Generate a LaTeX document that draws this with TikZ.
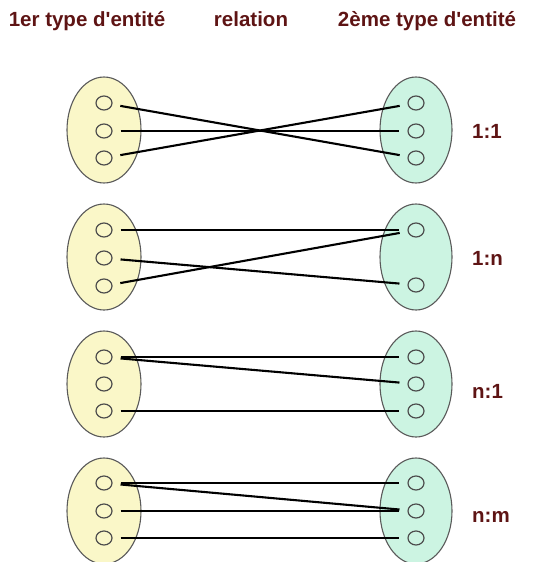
\documentclass[tikz,border=0pt]{standalone}
\usepackage{fontspec}
\setmainfont{Liberation Sans}[Ligatures=TeXOff]
\usetikzlibrary{shapes.geometric}
\definecolor{lefty}{HTML}{FAF7C8}
\definecolor{rightg}{HTML}{CCF4E2}
\definecolor{rim}{HTML}{5A5A5A}
\definecolor{txt}{HTML}{5E1414}
\begin{document}
\begin{tikzpicture}[x=1pt,y=-1pt,
  setL/.style={ellipse, draw=rim, line width=1.1pt, fill=lefty, minimum width=74pt, minimum height=106pt, inner sep=0pt},
  setR/.style={ellipse, draw=rim, line width=1.1pt, fill=rightg, minimum width=72pt, minimum height=106pt, inner sep=0pt},
  dotL/.style={ellipse, draw=rim!85!black, line width=1.2pt, fill=lefty, minimum width=16pt, minimum height=14pt, inner sep=0pt},
  dotR/.style={ellipse, draw=rim!85!black, line width=1.2pt, fill=rightg, minimum width=16pt, minimum height=14pt, inner sep=0pt},
  head/.style={font=\fontsize{20.5}{22}\selectfont\bfseries, text=txt, anchor=base, inner sep=0pt},
  card/.style={font=\fontsize{20.5}{22}\selectfont\bfseries, text=txt, anchor=base west, inner sep=0pt},
  link/.style={line width=2.1pt, black, shorten <=8pt, shorten >=8pt}]
\useasboundingbox (0,0) rectangle (539,562);
% headers
\node[head] (h1) at (87,27) {1er type d'entité};
\node[head] (h2) at (251,27) {relation};
\node[head] (h3) at (427,27) {2ème type d'entité};
% group 1: 1:1
\node[setL] (L1) at (104,130) {};
\node[setR] (R1) at (416,130) {};
\node[dotL] (a1) at (104,103) {};
\node[dotL] (a2) at (104,131) {};
\node[dotL] (a3) at (104,158) {};
\node[dotR] (b1) at (416,103) {};
\node[dotR] (b2) at (416,131) {};
\node[dotR] (b3) at (416,158) {};
\node[card] (c1) at (472,138) {1:1};
\draw[link] (a1) -- (b3);
\draw[link] (a2) -- (b2);
\draw[link] (a3) -- (b1);
% group 2: 1:n
\node[setL] (L2) at (104,257) {};
\node[setR] (R2) at (416,257) {};
\node[dotL] (d1) at (104,230) {};
\node[dotL] (d2) at (104,258) {};
\node[dotL] (d3) at (104,286) {};
\node[dotR] (e1) at (416,230) {};
\node[dotR] (e3) at (416,285) {};
\node[card] (c2) at (472,265) {1:n};
\draw[link] (d1) -- (e1);
\draw[link] (d2) -- (e3);
\draw[link] (d3) -- (e1);
% group 3: n:1
\node[setL] (L3) at (104,384) {};
\node[setR] (R3) at (416,384) {};
\node[dotL] (f1) at (104,357) {};
\node[dotL] (f2) at (104,384) {};
\node[dotL] (f3) at (104,411) {};
\node[dotR] (g1) at (416,357) {};
\node[dotR] (g2) at (416,384) {};
\node[dotR] (g3) at (416,411) {};
\node[card] (c3) at (472,398) {n:1};
\draw[link] (f1) -- (g1);
\draw[link] (f1) -- (g2);
\draw[link] (f3) -- (g3);
% group 4: n:m
\node[setL] (L4) at (104,511) {};
\node[setR] (R4) at (416,511) {};
\node[dotL] (k1) at (104,483) {};
\node[dotL] (k2) at (104,511) {};
\node[dotL] (k3) at (104,538) {};
\node[dotR] (m1) at (416,483) {};
\node[dotR] (m2) at (416,511) {};
\node[dotR] (m3) at (416,538) {};
\node[card] (c4) at (472,522) {n:m};
\draw[link] (k1) -- (m1);
\draw[link] (k1) -- (m2);
\draw[link] (k2) -- (m2);
\draw[link] (k3) -- (m3);
\end{tikzpicture}
\end{document}
